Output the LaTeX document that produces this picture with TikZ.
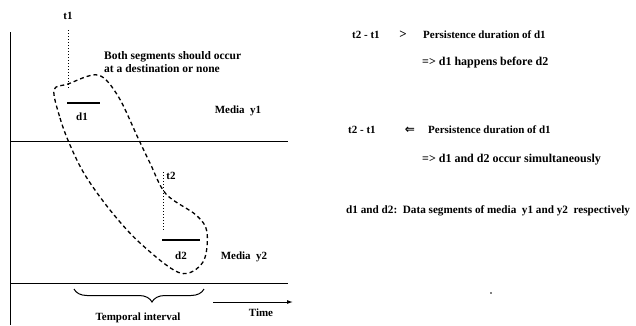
\documentclass[tikz,border=0pt]{standalone}
\usepackage{fontspec}
\setmainfont{Liberation Serif}
\newfontfamily\symfont{DejaVu Sans}
\usetikzlibrary{decorations.pathreplacing,arrows.meta}
\begin{document}
\begin{tikzpicture}[x=1pt,y=-1pt,
  lbl/.style={inner sep=0pt,font=\bfseries\fontsize{11}{12}\selectfont},
  big/.style={lbl,font=\bfseries\fontsize{12}{13}\selectfont},
  axis/.style={line width=1pt},
  loop/.style={line width=1.3pt,dash pattern=on 4pt off 3pt},
  dotline/.style={line width=1pt,dotted},
  seg/.style={line width=2.5pt}]
\useasboundingbox (0,0) rectangle (636,325);
% axes
\coordinate (vtop) at (10,32);
\coordinate (vbot) at (10,325);
\draw[axis] (vtop) -- (vbot);
\coordinate (h1a) at (10,141); \coordinate (h1b) at (288,141);
\draw[axis] (h1a) -- (h1b);
\coordinate (h2a) at (10,283); \coordinate (h2b) at (288,283);
\draw[axis] (h2a) -- (h2b);
% t1
\node[lbl] (t1) at (68,16) {t1};
\coordinate (t1a) at (68,30); \coordinate (t1b) at (68,88);
\draw[dotline] (t1a) -- (t1b);
% d1
\coordinate (d1a) at (67,103); \coordinate (d1b) at (100,103);
\draw[seg] (d1a) -- (d1b);
\node[lbl] (d1) at (82,117) {d1};
\node[lbl,align=left,anchor=west,font=\bfseries\fontsize{11.5}{12.5}\selectfont] (both) at (104,62) {Both segments should occur\\at a destination or none};
\node[lbl] (my1) at (238,111) {Media\ \ y1};
% t2
\node[lbl] (t2) at (171,176) {t2};
\coordinate (t2a) at (163,172); \coordinate (t2b) at (163,230);
\draw[dotline] (t2a) -- (t2b);
\coordinate (d2a) at (162,240); \coordinate (d2b) at (200,240);
\draw[seg] (d2a) -- (d2b);
\node[lbl] (d2) at (181,256) {d2};
\node[lbl] (my2) at (244,257) {Media\ \ y2};
% dashed loop
\draw[loop] plot[smooth cycle,tension=0.55] coordinates {
 (54,90) (60,118) (70,145) (85,175) (110,210) (140,243) (180,273)
 (203,262) (207,232) (196,215) (166,194) (150,163) (138,138) (118,96) (98,75) (68,84)};
% brace
\coordinate (bra) at (74,289); \coordinate (brb) at (204,289);
\draw[line width=1pt,decorate,decoration={brace,mirror,amplitude=13pt,aspect=0.6}] (bra) -- (brb);
\node[lbl] (ti) at (138,318) {Temporal interval};
% time arrow
\coordinate (ta) at (213,302); \coordinate (tb) at (293,302);
\draw[line width=1pt,-{Latex[length=6pt,width=4pt]}] (ta) -- (tb);
\node[lbl] (time) at (261,313) {Time};
% right text
\node[lbl,anchor=west] (r1a) at (352,35) {t2 - t1};
\node[lbl,font=\bfseries\fontsize{13}{13}\selectfont] (r1b) at (403,35) {>};
\node[lbl,anchor=west] (r1c) at (423,35) {Persistence duration of d1};
\node[big,anchor=west] (r2) at (422,63) {=> d1 happens before d2};
\node[lbl,anchor=west] (r3a) at (348,130) {t2 - t1};
\node[lbl,font=\symfont\bfseries\fontsize{12}{12}\selectfont] (r3b) at (410,130) {⇐};
\node[lbl,anchor=west] (r3c) at (428,130) {Persistence duration of d1};
\node[big,anchor=west] (r4) at (422,160) {=> d1 and d2 occur simultaneously};
\node[lbl,anchor=west,font=\bfseries\fontsize{11.2}{12}\selectfont] (r5) at (346,211) {d1 and d2:\ \ Data segments of media\ \ y1 and y2\ \ respectively};
\fill (491,293) circle (0.8pt);
\end{tikzpicture}
\end{document}
